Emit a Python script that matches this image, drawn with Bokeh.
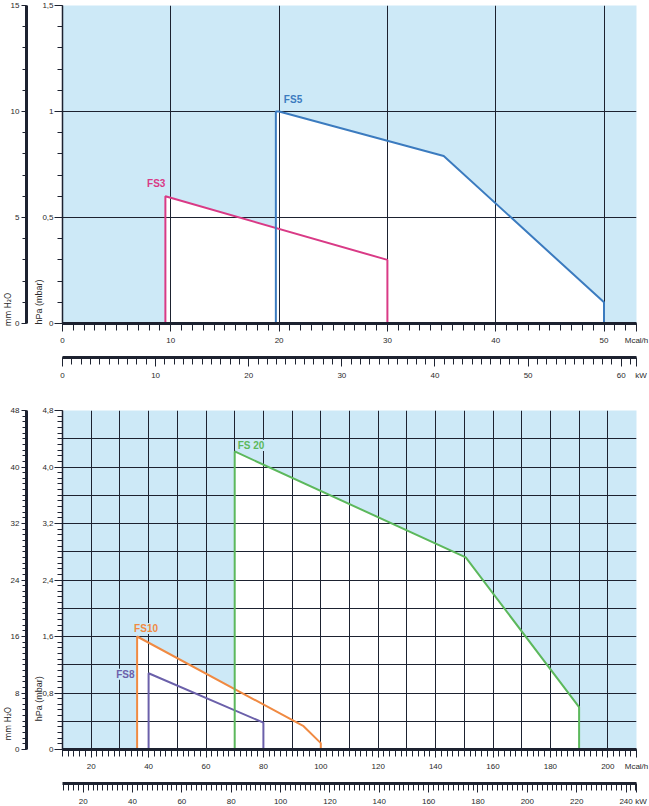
import numpy as np
from bokeh.plotting import figure
from bokeh.models import (Range1d, LinearAxis, FixedTicker, SingleIntervalTicker, Label)
from bokeh.layouts import column
from bokeh.embed import file_html
from bokeh.resources import INLINE

MCAL_TO_KW = 1.163   # 1 Mcal/h = 1.163 kW
HPA_TO_MM = 10.0     # 1 hPa ~ 10 mm H2O
NB = "\u00a0"

# ---------------- top chart data ----------------
top_mcal_range = (0, 53)
top_hpa_range = (0, 1.5)
top_mcal_ticks = [0, 10, 20, 30, 40, 50]
top_kw_ticks = [0, 10, 20, 30, 40, 50, 60]
top_hpa_ticks = [0, 0.5, 1.0, 1.5]
top_hpa_labels = ["0", "0,5", "1", "1,5"]

fs3_mcal = [9.5, 9.5, 30.0, 30.0]
fs3_hpa = [0.0, 0.6, 0.3, 0.0]
fs5_mcal = [19.7, 19.7, 20.0, 35.2, 50.0, 50.0]
fs5_hpa = [0.0, 1.0, 1.0, 0.79, 0.1, 0.0]

# ---------------- bottom chart data ----------------
bot_mcal_range = (10, 210)
bot_hpa_range = (0, 4.8)
bot_mcal_ticks = [20, 40, 60, 80, 100, 120, 140, 160, 180, 200]
bot_kw_ticks = [20, 40, 60, 80, 100, 120, 140, 160, 180, 200, 220, 240]
bot_hpa_ticks = [0, 0.8, 1.6, 2.4, 3.2, 4.0, 4.8]
bot_hpa_labels = ["0", "0,8", "1,6", "2,4", "3,2", "4,0", "4,8"]

fs8_mcal = [40.0, 40.0, 80.0, 80.0]
fs8_hpa = [0.0, 1.08, 0.38, 0.0]
fs10_mcal = [36.0, 36.0, 94.0, 100.0, 100.0]
fs10_hpa = [0.0, 1.6, 0.33, 0.09, 0.0]
fs20_mcal = [70.0, 70.0, 150.5, 190.0, 190.0]
fs20_hpa = [0.0, 4.22, 2.72, 0.6, 0.0]

C_FS3 = "#d93a86"
C_FS5 = "#3b7bbf"
C_FS8 = "#6b60aa"
C_FS10 = "#f08a42"
C_FS20 = "#5cb85c"
BG = "#cde9f7"
DARK = "#1d2230"
TXT = "#2a2a2a"
FONT = "Liberation Sans"


def frange(a, b, step):
    return [round(float(v), 4) for v in np.arange(a, b + step / 2, step)]


def style_axis(ax, line_w, maj_out, min_out, standoff):
    ax.axis_line_color = DARK
    ax.axis_line_width = line_w
    ax.major_tick_out = maj_out
    ax.major_tick_in = 0
    ax.minor_tick_out = min_out
    ax.minor_tick_in = 0
    ax.major_tick_line_color = DARK
    ax.minor_tick_line_color = DARK
    ax.major_label_standoff = standoff
    ax.major_label_text_font = FONT
    ax.major_label_text_font_size = "8px"
    ax.major_label_text_color = TXT


def make_chart(xr, yr, hpa_ticks, hpa_labels, hpa_minor, mm_major, mm_minor_n,
               mcal_ticks, mcal_minor, kw_ticks, kw_minor, grid_x, grid_y,
               frame_h, top_border, bottom_border, series, labels_pos,
               hpa_pad, mm_pad):
    p = figure(frame_width=574, frame_height=frame_h,
               x_range=Range1d(*xr), y_range=Range1d(*yr),
               output_backend="svg", toolbar_location=None,
               min_border_left=62, min_border_right=13,
               min_border_top=top_border, min_border_bottom=bottom_border)
    p.background_fill_color = BG
    p.border_fill_color = "white"
    p.outline_line_color = None

    kw_end = xr[1] * MCAL_TO_KW
    p.extra_y_ranges = {"mm": Range1d(yr[0] * HPA_TO_MM, yr[1] * HPA_TO_MM)}
    p.extra_x_ranges = {"kw": Range1d(xr[0] * MCAL_TO_KW, kw_end)}

    # hPa axis (title placed toward the bottom with trailing no-break spaces)
    ya = p.yaxis[0]
    ya.ticker = FixedTicker(ticks=hpa_ticks, minor_ticks=frange(yr[0], yr[1], hpa_minor))
    ya.major_label_overrides = dict(zip(hpa_ticks, hpa_labels))
    style_axis(ya, 1.5, 8, 5, 1)
    ya.axis_label = "hPa (mbar)" + NB * hpa_pad
    ya.axis_label_standoff = -5
    ya.axis_label_text_font = FONT
    ya.axis_label_text_font_size = "9px"
    ya.axis_label_text_font_style = "normal"
    ya.axis_label_text_color = TXT

    # empty spacer between the two left scales (one invisible tick)
    spacer = LinearAxis(ticker=FixedTicker(ticks=[yr[0]]), axis_line_color=None,
                        major_tick_line_color=None, minor_tick_line_color=None,
                        major_tick_out=5, minor_tick_out=0, major_tick_in=0,
                        minor_tick_in=0, major_label_standoff=0,
                        major_label_overrides={yr[0]: ""},
                        major_label_text_alpha=0)
    p.add_layout(spacer, "left")

    # mm H2O axis
    mm = LinearAxis(y_range_name="mm",
                    ticker=SingleIntervalTicker(interval=mm_major, num_minor_ticks=mm_minor_n))
    style_axis(mm, 3, 5, 4, 2)
    mm.axis_label = "mm H\u2082O" + NB * mm_pad
    mm.axis_label_standoff = -5
    mm.axis_label_text_font = "DejaVu Sans"
    mm.axis_label_text_font_size = "8px"
    mm.axis_label_text_font_style = "normal"
    mm.axis_label_text_color = TXT
    p.add_layout(mm, "left")

    # Mcal/h axis (unit written at the right end)
    xa = p.xaxis[0]
    xa.ticker = FixedTicker(ticks=mcal_ticks + [xr[1]],
                            minor_ticks=frange(xr[0], xr[1], mcal_minor))
    xa.major_label_overrides = {xr[1]: "Mcal/h"}
    style_axis(xa, 3, 8, 7, 4)
    xa.axis_label = " "
    xa.axis_label_standoff = 2
    xa.axis_label_text_font_size = "4px"

    # kW axis
    kw = LinearAxis(x_range_name="kw",
                    ticker=FixedTicker(ticks=kw_ticks + [kw_end],
                                       minor_ticks=frange(0, kw_end, kw_minor)))
    kw.major_label_overrides = {kw_end: NB * 4 + "kW"}
    style_axis(kw, 3, 9, 7, 4)
    p.add_layout(kw, "below")

    # grid
    p.xgrid.ticker = SingleIntervalTicker(interval=grid_x)
    p.ygrid.ticker = FixedTicker(ticks=frange(yr[0], yr[1], grid_y))
    for g in (p.xgrid, p.ygrid):
        g.grid_line_color = DARK
        g.grid_line_width = 1
        g.grid_line_alpha = 1.0

    # white areas, then outlines
    for xs, ys, col, name in series:
        p.patch(xs, ys, fill_color="white", line_color=None, level="image")
    for xs, ys, col, name in series:
        p.line(xs, ys, line_color=col, line_width=2)
    for (xs, ys, col, name), (dx, dy, align) in zip(series, labels_pos):
        p.add_layout(Label(x=xs[1], y=ys[1], text=name, x_offset=dx, y_offset=dy,
                           text_align=align, text_baseline="middle",
                           text_color=col, text_font=FONT, text_font_style="bold",
                           text_font_size="10px", background_fill_color=BG))
    return p


p1 = make_chart(top_mcal_range, top_hpa_range, top_hpa_ticks, top_hpa_labels, 0.1,
                5, 5, top_mcal_ticks, 1, top_kw_ticks, 1, 10, 0.5, 318, 5, 63,
                [(fs3_mcal, fs3_hpa, C_FS3, "FS3"), (fs5_mcal, fs5_hpa, C_FS5, "FS5")],
                [(0, 13, "right"), (8, 12, "left")], 110, 114)

p2 = make_chart(bot_mcal_range, bot_hpa_range, bot_hpa_ticks, bot_hpa_labels, 0.08,
                8, 10, bot_mcal_ticks, 2, bot_kw_ticks, 2, 10, 0.4, 339, 24, 57,
                [(fs8_mcal, fs8_hpa, C_FS8, "FS8"), (fs10_mcal, fs10_hpa, C_FS10, "FS10"),
                 (fs20_mcal, fs20_hpa, C_FS20, "FS 20")],
                [(-14, -1, "right"), (-3, 8, "left"), (3, 6, "left")], 95, 113)

layout = column(p1, p2, spacing=0)
open("out.html", "w").write(file_html(layout, INLINE))
